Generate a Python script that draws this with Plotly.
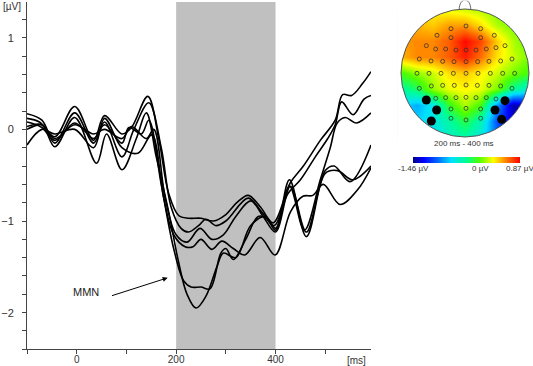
import plotly.graph_objects as go

# ---------------- ERP data (ms, µV) ----------------
t1 = [-100,-75,-44,-4,34,56,91,110,143,165,185,205,225,250,275,300,322,345,370,395,430,456,490,520,535,553,575,592]
v1 = [0.12,0.08,-0.08,0.25,-0.12,0.15,-0.05,0.02,0.36,-0.1,-0.7,-0.94,-0.97,-0.97,-1.0,-0.93,-0.8,-0.72,-0.85,-1.02,-0.58,-0.4,-0.12,0.1,0.38,0.37,0.5,0.63]

t2 = [-100,-70,-44,-4,34,56,91,115,145,170,190,210,225,245,260,280,300,345,372,397,425,450,480,505,520,533,556,578,592]
v2 = [0.17,0.1,-0.15,0.18,-0.15,0.08,-0.3,0.0,0.29,-0.2,-0.85,-1.08,-1.12,-1.05,-0.98,-1.05,-1.0,-0.75,-0.9,-1.05,-0.7,-0.55,-0.3,-0.1,0.05,0.3,0.16,0.33,0.37]

t3 = [-100,-70,-44,-4,40,60,91,120,140,160,185,205,222,240,260,282,295,320,350,380,400,428,458,490,510,524,540,563,592]
v3 = [0.03,0.05,-0.19,0.13,-0.37,-0.05,-0.44,-0.1,0.18,-0.3,-0.9,-1.45,-1.8,-1.95,-1.82,-1.5,-1.35,-1.4,-1.05,-0.95,-1.08,-0.62,-1.1,-0.55,-0.2,0.07,0.13,0.07,0.18]

t4 = [-100,-70,-44,-4,34,56,91,105,130,145,170,195,215,230,250,268,290,300,315,340,365,382,400,428,462,500,518,550,592]
v4 = [0.08,0.02,-0.12,0.07,-0.1,0.05,-0.15,0.02,-0.05,0.1,-0.6,-1.3,-1.65,-1.72,-1.72,-1.74,-1.35,-1.3,-1.42,-1.2,-0.95,-0.97,-1.1,-0.55,-1.17,-0.45,-0.4,-0.57,-0.17]

t5 = [-100,-70,-44,-4,34,56,91,123,151,175,195,218,234,250,272,292,315,338,369,399,430,455,475,496,530,565,592]
v5 = [-0.17,0.0,-0.05,0.0,-0.2,0.12,-0.2,-0.26,-0.06,-0.75,-1.15,-1.28,-1.28,-1.2,-1.31,-1.22,-1.3,-1.37,-1.18,-1.37,-0.9,-0.73,-0.72,-0.6,-0.82,-0.66,-0.42]

t6 = [-100,-70,-44,-4,34,56,91,110,140,155,178,200,222,248,272,295,320,350,375,400,430,462,500,525,555,592]
v6 = [0.0,0.05,-0.1,0.05,-0.05,0.0,-0.1,0.03,-0.1,0.0,-0.75,-1.15,-1.23,-1.08,-1.2,-1.15,-0.95,-0.78,-0.95,-1.12,-0.62,-1.12,-0.48,-0.45,-0.55,-0.4]

window_ms = [200, 400]
y_ticks = [-2, -1, 0, 1]
x_ticks = [0, 200, 400]

# ---------------- topography data ----------------
grid_x = [-1, -0.75, -0.5, -0.25, 0, 0.25, 0.5, 0.75, 1]
grid_y = [-1, -0.75, -0.5, -0.25, 0, 0.25, 0.5, 0.75, 1]
topo_z = [
    [-0.6, -0.6, -0.6, -0.45, -0.35, -0.55, -0.9, -1.1, -1.1],    # y=-1
    [-0.7, -0.65, -0.55, -0.35, -0.15, -0.4, -1.0, -1.3, -1.2],   # y=-0.75
    [-0.6, -0.75, -0.55, -0.1, 0.15, -0.05, -0.8, -1.4, -1.25],   # y=-0.5
    [-0.35, -0.2, 0.1, 0.25, 0.3, 0.25, 0.05, -0.3, -0.5],        # y=-0.25
    [-0.05, 0.1, 0.2, 0.35, 0.4, 0.3, 0.2, 0.05, -0.05],          # y=0
    [0.45, 0.55, 0.55, 0.65, 0.8, 0.6, 0.35, 0.2, 0.05],          # y=0.25
    [0.5, 0.55, 0.55, 0.65, 0.85, 0.7, 0.4, 0.15, 0.0],           # y=0.5
    [0.45, 0.45, 0.4, 0.5, 0.5, 0.35, 0.15, 0.05, 0.0],           # y=0.75
    [0.3, 0.3, 0.3, 0.25, 0.2, 0.15, 0.05, 0.0, 0.0],             # y=1
]
z_min, z_max = -1.46, 0.87
cbar_vals = [-1.46, 0, 0.87]
cbar_labels = ["-1.46 µV", "0 µV", "0.87 µV"]

# electrode positions (zoomed picture coordinates -> head units)
elec_px = [(228,78),(183,86),(272,86),(141,106),(313,106),(183,113),(272,113),
           (109,137),(345,137),
           (137,147),(167,147),(198,150),(228,150),(258,150),(289,147),(318,143),
           (88,177),(123,183),(158,184),(192,185),(228,185),(263,185),(297,184),(332,183),(366,177),
           (81,220),(117,220),(153,220),(190,220),(228,220),(264,220),(301,220),(338,220),(374,220),
           (88,265),(124,258),(158,256),(193,256),(228,255),(262,256),(297,256),(332,258),(366,265),
           (137,295),(167,293),(198,293),(228,292),(258,293),(289,293),(318,297),
           (183,327),(228,325),(272,327),
           (183,355),(228,360),(272,355)]
big_px = [(109,300),(140,330),(124,363),(345,302),(315,330),(335,358)]
elec_x = [round((a - 225) / 192, 3) for a, b in elec_px]
elec_y = [round((219 - b) / 192, 3) for a, b in elec_px]
big_x = [round((a - 225) / 192, 3) for a, b in big_px]
big_y = [round((219 - b) / 192, 3) for a, b in big_px]

W, H = 533, 366
FONT = "Liberation Sans, Arial, sans-serif"

fig = go.Figure()

for t, v in [(t1, v1), (t2, v2), (t3, v3), (t4, v4), (t5, v5), (t6, v6)]:
    fig.add_trace(go.Scatter(x=t, y=v, mode="lines",
                             line=dict(color="black", width=1.6, shape="spline", smoothing=1.0),
                             showlegend=False, hoverinfo="skip", xaxis="x", yaxis="y"))

# shaded window
fig.add_shape(type="rect", xref="x", yref="y domain", x0=window_ms[0], x1=window_ms[1],
              y0=0, y1=1, fillcolor="#c0c0c0", line=dict(width=0), layer="below")

# MMN annotation
fig.add_annotation(x=183, y=-1.62, ax=68, ay=-1.82, xref="x", yref="y", axref="x", ayref="y",
                   showarrow=True, arrowhead=2, arrowsize=1, arrowwidth=1, arrowcolor="black", text="")
fig.add_annotation(x=18, y=-1.77, xref="x", yref="y", text="MMN", showarrow=False,
                   xanchor="center", font=dict(family=FONT, size=11, color="#222"))

# ---------------- topography ----------------
cscale = [[0, "#00008c"], [0.1, "#0000ff"], [0.22, "#0060ff"], [0.36, "#00e0ff"],
          [0.5, "#00ff90"], [0.62, "#50ff00"], [0.75, "#ffff00"], [0.87, "#ff8000"], [1, "#ff0000"]]
cb_x0, cb_x1 = 413, 520
fig.add_trace(go.Heatmap(x=grid_x, y=grid_y, z=topo_z, zmin=z_min, zmax=z_max, zsmooth="best",
                         colorscale=cscale, xaxis="x2", yaxis="y2", hoverinfo="skip",
                         colorbar=dict(orientation="h", lenmode="pixels", len=cb_x1 - cb_x0, thickness=6,
                                       x=(cb_x0 + cb_x1) / 2 / W, xanchor="center", y=1 - 157 / H,
                                       yanchor="top", xpad=0, ypad=0, outlinewidth=0, ticks="",
                                       showticklabels=False)))
for val, lab in zip(cbar_vals, cbar_labels):
    fig.add_annotation(x=(cb_x0 + (val - z_min) / (z_max - z_min) * (cb_x1 - cb_x0)) / W,
                       y=1 - 168 / H, xref="paper", yref="paper", text=lab, showarrow=False,
                       xanchor="center", yanchor="middle",
                       font=dict(family=FONT, size=8, color="#333"))

fig.add_trace(go.Scatter(x=elec_x, y=elec_y, mode="markers", xaxis="x2", yaxis="y2",
                         marker=dict(symbol="circle-open", size=4, color="#333", line=dict(width=0.8)),
                         showlegend=False, hoverinfo="skip"))
fig.add_trace(go.Scatter(x=big_x, y=big_y, mode="markers", xaxis="x2", yaxis="y2",
                         marker=dict(symbol="circle", size=9, color="black"),
                         showlegend=False, hoverinfo="skip"))
# white masks in the four corners outside the head
k = 0.5523
corner_paths = [
    f"M 1,0 L 1.6,0 L 1.6,1.6 L 0,1.6 L 0,1 C {k},1 1,{k} 1,0 Z",
    f"M 0,1 L 0,1.6 L -1.6,1.6 L -1.6,0 L -1,0 C -1,{k} {-k},1 0,1 Z",
    f"M -1,0 L -1.6,0 L -1.6,-1.6 L 0,-1.6 L 0,-1 C {-k},-1 -1,{-k} -1,0 Z",
    f"M 0,-1 L 0,-1.6 L 1.6,-1.6 L 1.6,0 L 1,0 C 1,{-k} {k},-1 0,-1 Z",
]
for p in corner_paths:
    fig.add_shape(type="path", xref="x2", yref="y2", path=p, fillcolor="white",
                  line=dict(width=0), layer="above")
fig.add_shape(type="circle", xref="x2", yref="y2", x0=-1, x1=1, y0=-1, y1=1,
              line=dict(color="#555", width=1))
fig.add_shape(type="path", xref="x2", yref="y2",
              path="M -0.09,0.99 C -0.09,1.19 0.09,1.19 0.09,0.99",
              line=dict(color="#666", width=1))
fig.add_annotation(x=464 / W, y=1 - 143 / H, xref="paper", yref="paper", text="200 ms - 400 ms",
                   showarrow=False, xanchor="center", yanchor="middle",
                   font=dict(family=FONT, size=8, color="#333"))

# unit labels
fig.add_annotation(x=12 / W, y=1 - 6 / H, xref="paper", yref="paper", text="[µV]",
                   showarrow=False, xanchor="center", yanchor="middle",
                   font=dict(family=FONT, size=10, color="#333"))
fig.add_annotation(x=356 / W, y=1 - 360 / H, xref="paper", yref="paper", text="[ms]",
                   showarrow=False, xanchor="center", yanchor="middle",
                   font=dict(family=FONT, size=10, color="#333"))

axis_common = dict(showgrid=False, zeroline=False, showline=True, linecolor="#444", linewidth=1,
                   ticks="outside", ticklen=4, tickcolor="#444", automargin=False)

fig.update_layout(
    width=W, height=H, margin=dict(l=0, r=0, t=0, b=0, pad=0, autoexpand=False),
    paper_bgcolor="white", plot_bgcolor="white",
    xaxis=dict(domain=[27 / W, 371 / W], range=[-100, 592], tickvals=x_ticks,
               ticklabelstandoff=-3,
               tickfont=dict(family=FONT, size=10, color="#333"),
               minor=dict(dtick=100, tick0=0, ticklen=4, tickcolor="#444", ticks="outside"),
               **axis_common),
    yaxis=dict(domain=[1 - 349.3 / H, 1 - 2 / H], range=[-2.4, 1.39], tickvals=y_ticks,
               ticklabelstandoff=6, tickfont=dict(family=FONT, size=11, color="#333"),
               minor=dict(dtick=0.2, tick0=0, ticklen=4, tickcolor="#444", ticks="outside"),
               **axis_common),
    xaxis2=dict(domain=[(465 - 1.05 * 64) / W, (465 + 1.05 * 64) / W], range=[-1.05, 1.05],
                visible=False, anchor="y2", automargin=False),
    yaxis2=dict(domain=[1 - (73 + 1.05 * 64) / H, 1 - (73 - 1.13 * 64) / H], range=[-1.05, 1.13],
                visible=False, anchor="x2", automargin=False),
)

fig.write_html("out.html", config={"displayModeBar": False},
               post_script="document.body.style.margin='0';document.body.style.overflow='hidden';")
